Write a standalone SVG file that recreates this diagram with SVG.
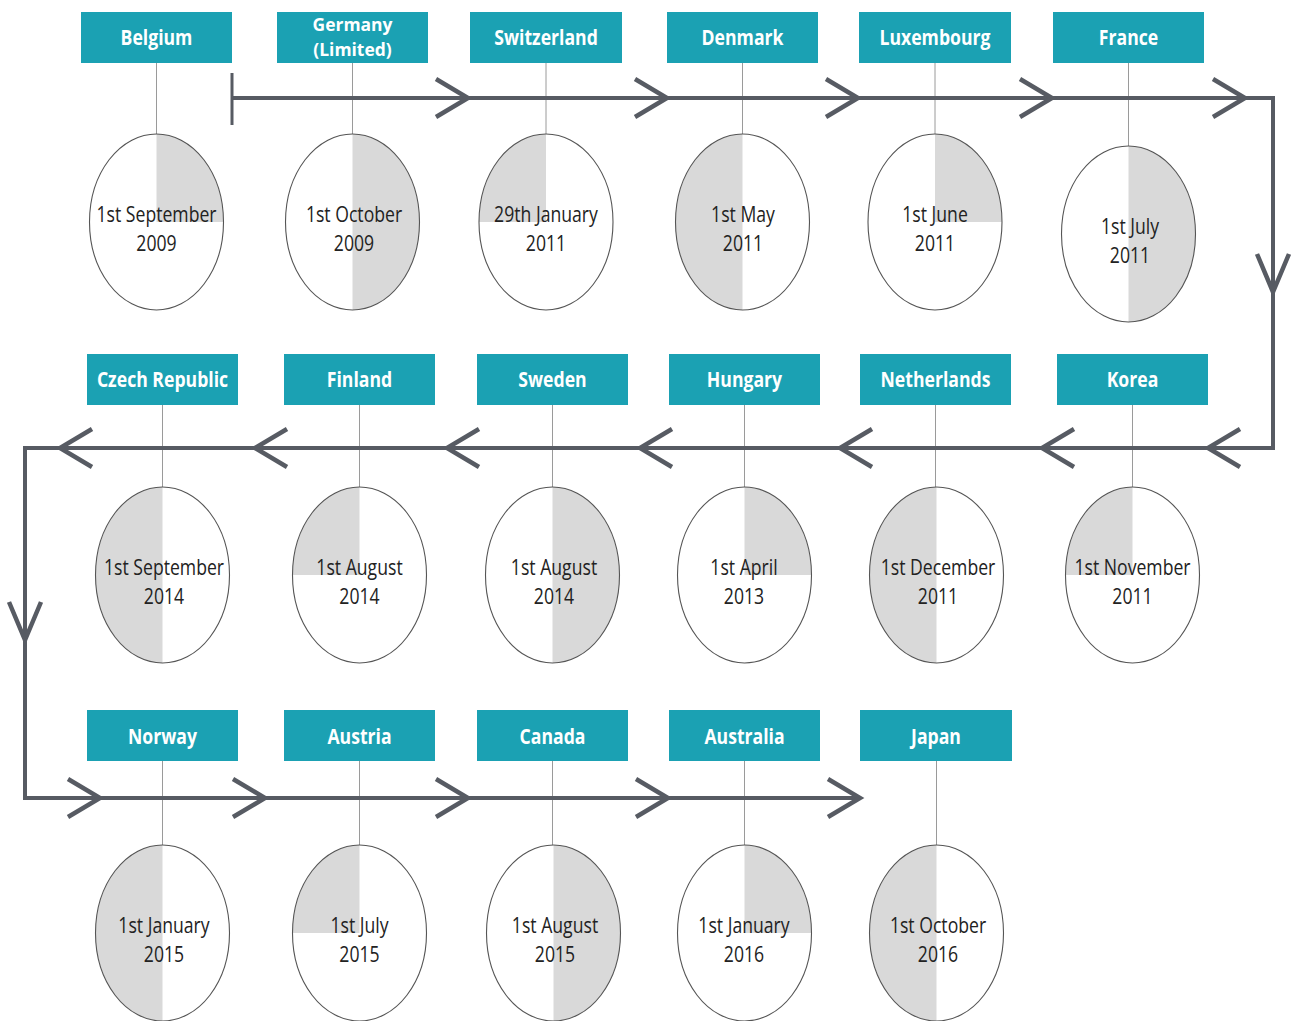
<svg xmlns="http://www.w3.org/2000/svg" width="1294" height="1021" viewBox="0 0 1294 1021">
<style>
.box{fill:#1ba1b3}
.bt{fill:#ffffff;font-family:"Open Sans","Liberation Sans",sans-serif;font-weight:700;font-size:21px;text-anchor:middle}
.bt2{fill:#ffffff;font-family:"Open Sans","Liberation Sans",sans-serif;font-weight:700;font-size:18px;text-anchor:middle}
.ct{fill:#222222;font-family:"Open Sans","Liberation Sans",sans-serif;font-size:21px;text-anchor:middle}
.stem{stroke:#9a9a9a;stroke-width:1}
.shade{fill:#d9d9d9}
.ring{fill:none;stroke:#555555;stroke-width:1.1}
.bg{fill:#ffffff}
.tl{fill:none;stroke:#575b63;stroke-width:4}
.chev{fill:none;stroke:#575b63;stroke-width:4.5}
</style>
<defs>
<path id="tr" d="M0,0 V-88 A67,88 0 0 1 67,0 Z"/>
<path id="tl" d="M0,0 V-88 A67,88 0 0 0 -67,0 Z"/>
<path id="rh" d="M0,-88 A67,88 0 0 1 0,88 Z"/>
<path id="lh" d="M0,-88 A67,88 0 0 0 0,88 Z"/>
<path id="cr" d="M-32,-19 L0,0 L-32,19"/>
<path id="cl" d="M32,-19 L0,0 L32,19"/>
<path id="cd" d="M-16,-38 L0,0 L16,-38"/>
</defs>
<rect width="1294" height="1021" fill="#ffffff"/>

<g id="stems">
<line class="stem" x1="156.5" y1="63" x2="156.5" y2="134"/>
<line class="stem" x1="352.5" y1="63" x2="352.5" y2="134"/>
<line class="stem" x1="546" y1="63" x2="546" y2="134"/>
<line class="stem" x1="742.5" y1="63" x2="742.5" y2="134"/>
<line class="stem" x1="935" y1="63" x2="935" y2="134"/>
<line class="stem" x1="1128.5" y1="63" x2="1128.5" y2="146"/>
<line class="stem" x1="162.5" y1="405" x2="162.5" y2="487"/>
<line class="stem" x1="359.5" y1="405" x2="359.5" y2="487"/>
<line class="stem" x1="552.5" y1="405" x2="552.5" y2="487"/>
<line class="stem" x1="744.5" y1="405" x2="744.5" y2="487"/>
<line class="stem" x1="935.5" y1="405" x2="935.5" y2="487"/>
<line class="stem" x1="1132.5" y1="405" x2="1132.5" y2="487"/>
<line class="stem" x1="162.5" y1="761" x2="162.5" y2="845"/>
<line class="stem" x1="359.5" y1="761" x2="359.5" y2="845"/>
<line class="stem" x1="552.5" y1="761" x2="552.5" y2="845"/>
<line class="stem" x1="744.5" y1="761" x2="744.5" y2="845"/>
<line class="stem" x1="936.5" y1="761" x2="936.5" y2="845"/>
</g>

<g id="connectors">
<path class="tl" d="M232,98 H1273 V448 H25 V798 H860"/>
<path class="tl" d="M232,73 V125" style="stroke-width:3"/>
<use href="#cr" class="chev" x="468" y="98"/>
<use href="#cr" class="chev" x="667" y="98"/>
<use href="#cr" class="chev" x="858" y="98"/>
<use href="#cr" class="chev" x="1052" y="98"/>
<use href="#cr" class="chev" x="1245" y="98"/>
<use href="#cd" class="chev" x="1273" y="292"/>
<use href="#cl" class="chev" x="1208" y="448"/>
<use href="#cl" class="chev" x="1042" y="448"/>
<use href="#cl" class="chev" x="840" y="448"/>
<use href="#cl" class="chev" x="640" y="448"/>
<use href="#cl" class="chev" x="447" y="448"/>
<use href="#cl" class="chev" x="255" y="448"/>
<use href="#cl" class="chev" x="60" y="448"/>
<use href="#cd" class="chev" x="25" y="640"/>
<use href="#cr" class="chev" x="100" y="798"/>
<use href="#cr" class="chev" x="265" y="798"/>
<use href="#cr" class="chev" x="468" y="798"/>
<use href="#cr" class="chev" x="668" y="798"/>
<use href="#cr" class="chev" x="860" y="798"/>
</g>

<g id="belgium">
<rect class="box" x="81" y="12" width="151" height="51"/>
<text class="bt" transform="translate(156.5,0) scale(0.84,1)" x="0" y="45">Belgium</text>
<ellipse class="bg" cx="156.5" cy="222" rx="67" ry="88"/>
<use href="#tr" class="shade" x="156.5" y="222"/>
<ellipse class="ring" cx="156.5" cy="222" rx="67" ry="88"/>
<text class="ct" transform="translate(156.5,0) scale(0.84,1)"><tspan x="0" y="222">1st September</tspan><tspan x="0" y="251">2009</tspan></text>
</g>
<g id="germany">
<rect class="box" x="277" y="12" width="151" height="51"/>
<text class="bt2" transform="translate(352.5,0) scale(0.97,1)" x="0" y="31">Germany</text>
<text class="bt2" transform="translate(352.5,0) scale(0.97,1)" x="0" y="56">(Limited)</text>
<ellipse class="bg" cx="352.5" cy="222" rx="67" ry="88"/>
<use href="#rh" class="shade" x="352.5" y="222"/>
<ellipse class="ring" cx="352.5" cy="222" rx="67" ry="88"/>
<text class="ct" transform="translate(354,0) scale(0.84,1)"><tspan x="0" y="222">1st October</tspan><tspan x="0" y="251">2009</tspan></text>
</g>
<g id="switzerland">
<rect class="box" x="470" y="12" width="152" height="51"/>
<text class="bt" transform="translate(546,0) scale(0.84,1)" x="0" y="45">Switzerland</text>
<ellipse class="bg" cx="546" cy="222" rx="67" ry="88"/>
<use href="#tl" class="shade" x="546" y="222"/>
<ellipse class="ring" cx="546" cy="222" rx="67" ry="88"/>
<text class="ct" transform="translate(546,0) scale(0.84,1)"><tspan x="0" y="222">29th January</tspan><tspan x="0" y="251">2011</tspan></text>
</g>
<g id="denmark">
<rect class="box" x="667" y="12" width="151" height="51"/>
<text class="bt" transform="translate(742.5,0) scale(0.84,1)" x="0" y="45">Denmark</text>
<ellipse class="bg" cx="742.5" cy="222" rx="67" ry="88"/>
<use href="#lh" class="shade" x="742.5" y="222"/>
<ellipse class="ring" cx="742.5" cy="222" rx="67" ry="88"/>
<text class="ct" transform="translate(743,0) scale(0.84,1)"><tspan x="0" y="222">1st May</tspan><tspan x="0" y="251">2011</tspan></text>
</g>
<g id="luxembourg">
<rect class="box" x="859" y="12" width="152" height="51"/>
<text class="bt" transform="translate(935,0) scale(0.84,1)" x="0" y="45">Luxembourg</text>
<ellipse class="bg" cx="935" cy="222" rx="67" ry="88"/>
<use href="#tr" class="shade" x="935" y="222"/>
<ellipse class="ring" cx="935" cy="222" rx="67" ry="88"/>
<text class="ct" transform="translate(935,0) scale(0.84,1)"><tspan x="0" y="222">1st June</tspan><tspan x="0" y="251">2011</tspan></text>
</g>
<g id="france">
<rect class="box" x="1053" y="12" width="151" height="51"/>
<text class="bt" transform="translate(1128.5,0) scale(0.84,1)" x="0" y="45">France</text>
<ellipse class="bg" cx="1128.5" cy="234" rx="67" ry="88"/>
<use href="#rh" class="shade" x="1128.5" y="234"/>
<ellipse class="ring" cx="1128.5" cy="234" rx="67" ry="88"/>
<text class="ct" transform="translate(1130,0) scale(0.84,1)"><tspan x="0" y="234">1st July</tspan><tspan x="0" y="263">2011</tspan></text>
</g>

<g id="czech-republic">
<rect class="box" x="87" y="354" width="151" height="51"/>
<text class="bt" transform="translate(162.5,0) scale(0.84,1)" x="0" y="387">Czech Republic</text>
<ellipse class="bg" cx="162.5" cy="575" rx="67" ry="88"/>
<use href="#lh" class="shade" x="162.5" y="575"/>
<ellipse class="ring" cx="162.5" cy="575" rx="67" ry="88"/>
<text class="ct" transform="translate(164,0) scale(0.84,1)"><tspan x="0" y="575">1st September</tspan><tspan x="0" y="604">2014</tspan></text>
</g>
<g id="finland">
<rect class="box" x="284" y="354" width="151" height="51"/>
<text class="bt" transform="translate(359.5,0) scale(0.84,1)" x="0" y="387">Finland</text>
<ellipse class="bg" cx="359.5" cy="575" rx="67" ry="88"/>
<use href="#tl" class="shade" x="359.5" y="575"/>
<ellipse class="ring" cx="359.5" cy="575" rx="67" ry="88"/>
<text class="ct" transform="translate(359.5,0) scale(0.84,1)"><tspan x="0" y="575">1st August</tspan><tspan x="0" y="604">2014</tspan></text>
</g>
<g id="sweden">
<rect class="box" x="477" y="354" width="151" height="51"/>
<text class="bt" transform="translate(552.5,0) scale(0.84,1)" x="0" y="387">Sweden</text>
<ellipse class="bg" cx="552.5" cy="575" rx="67" ry="88"/>
<use href="#rh" class="shade" x="552.5" y="575"/>
<ellipse class="ring" cx="552.5" cy="575" rx="67" ry="88"/>
<text class="ct" transform="translate(554,0) scale(0.84,1)"><tspan x="0" y="575">1st August</tspan><tspan x="0" y="604">2014</tspan></text>
</g>
<g id="hungary">
<rect class="box" x="669" y="354" width="151" height="51"/>
<text class="bt" transform="translate(744.5,0) scale(0.84,1)" x="0" y="387">Hungary</text>
<ellipse class="bg" cx="744.5" cy="575" rx="67" ry="88"/>
<use href="#tr" class="shade" x="744.5" y="575"/>
<ellipse class="ring" cx="744.5" cy="575" rx="67" ry="88"/>
<text class="ct" transform="translate(744,0) scale(0.84,1)"><tspan x="0" y="575">1st April</tspan><tspan x="0" y="604">2013</tspan></text>
</g>
<g id="netherlands">
<rect class="box" x="860" y="354" width="151" height="51"/>
<text class="bt" transform="translate(935.5,0) scale(0.84,1)" x="0" y="387">Netherlands</text>
<ellipse class="bg" cx="936.5" cy="575" rx="67" ry="88"/>
<use href="#lh" class="shade" x="936.5" y="575"/>
<ellipse class="ring" cx="936.5" cy="575" rx="67" ry="88"/>
<text class="ct" transform="translate(938,0) scale(0.84,1)"><tspan x="0" y="575">1st December</tspan><tspan x="0" y="604">2011</tspan></text>
</g>
<g id="korea">
<rect class="box" x="1057" y="354" width="151" height="51"/>
<text class="bt" transform="translate(1132.5,0) scale(0.84,1)" x="0" y="387">Korea</text>
<ellipse class="bg" cx="1132.5" cy="575" rx="67" ry="88"/>
<use href="#tl" class="shade" x="1132.5" y="575"/>
<ellipse class="ring" cx="1132.5" cy="575" rx="67" ry="88"/>
<text class="ct" transform="translate(1132.5,0) scale(0.84,1)"><tspan x="0" y="575">1st November</tspan><tspan x="0" y="604">2011</tspan></text>
</g>

<g id="norway">
<rect class="box" x="87" y="710" width="151" height="51"/>
<text class="bt" transform="translate(162.5,0) scale(0.84,1)" x="0" y="744">Norway</text>
<ellipse class="bg" cx="162.5" cy="933" rx="67" ry="88"/>
<use href="#lh" class="shade" x="162.5" y="933"/>
<ellipse class="ring" cx="162.5" cy="933" rx="67" ry="88"/>
<text class="ct" transform="translate(164,0) scale(0.84,1)"><tspan x="0" y="933">1st January</tspan><tspan x="0" y="962">2015</tspan></text>
</g>
<g id="austria">
<rect class="box" x="284" y="710" width="151" height="51"/>
<text class="bt" transform="translate(359.5,0) scale(0.84,1)" x="0" y="744">Austria</text>
<ellipse class="bg" cx="359.5" cy="933" rx="67" ry="88"/>
<use href="#tl" class="shade" x="359.5" y="933"/>
<ellipse class="ring" cx="359.5" cy="933" rx="67" ry="88"/>
<text class="ct" transform="translate(359.5,0) scale(0.84,1)"><tspan x="0" y="933">1st July</tspan><tspan x="0" y="962">2015</tspan></text>
</g>
<g id="canada">
<rect class="box" x="477" y="710" width="151" height="51"/>
<text class="bt" transform="translate(552.5,0) scale(0.84,1)" x="0" y="744">Canada</text>
<ellipse class="bg" cx="553.5" cy="933" rx="67" ry="88"/>
<use href="#rh" class="shade" x="553.5" y="933"/>
<ellipse class="ring" cx="553.5" cy="933" rx="67" ry="88"/>
<text class="ct" transform="translate(555,0) scale(0.84,1)"><tspan x="0" y="933">1st August</tspan><tspan x="0" y="962">2015</tspan></text>
</g>
<g id="australia">
<rect class="box" x="669" y="710" width="151" height="51"/>
<text class="bt" transform="translate(744.5,0) scale(0.84,1)" x="0" y="744">Australia</text>
<ellipse class="bg" cx="744.5" cy="933" rx="67" ry="88"/>
<use href="#tr" class="shade" x="744.5" y="933"/>
<ellipse class="ring" cx="744.5" cy="933" rx="67" ry="88"/>
<text class="ct" transform="translate(744,0) scale(0.84,1)"><tspan x="0" y="933">1st January</tspan><tspan x="0" y="962">2016</tspan></text>
</g>
<g id="japan">
<rect class="box" x="860" y="710" width="152" height="51"/>
<text class="bt" transform="translate(936,0) scale(0.84,1)" x="0" y="744">Japan</text>
<ellipse class="bg" cx="936.5" cy="933" rx="67" ry="88"/>
<use href="#lh" class="shade" x="936.5" y="933"/>
<ellipse class="ring" cx="936.5" cy="933" rx="67" ry="88"/>
<text class="ct" transform="translate(938,0) scale(0.84,1)"><tspan x="0" y="933">1st October</tspan><tspan x="0" y="962">2016</tspan></text>
</g>
</svg>
